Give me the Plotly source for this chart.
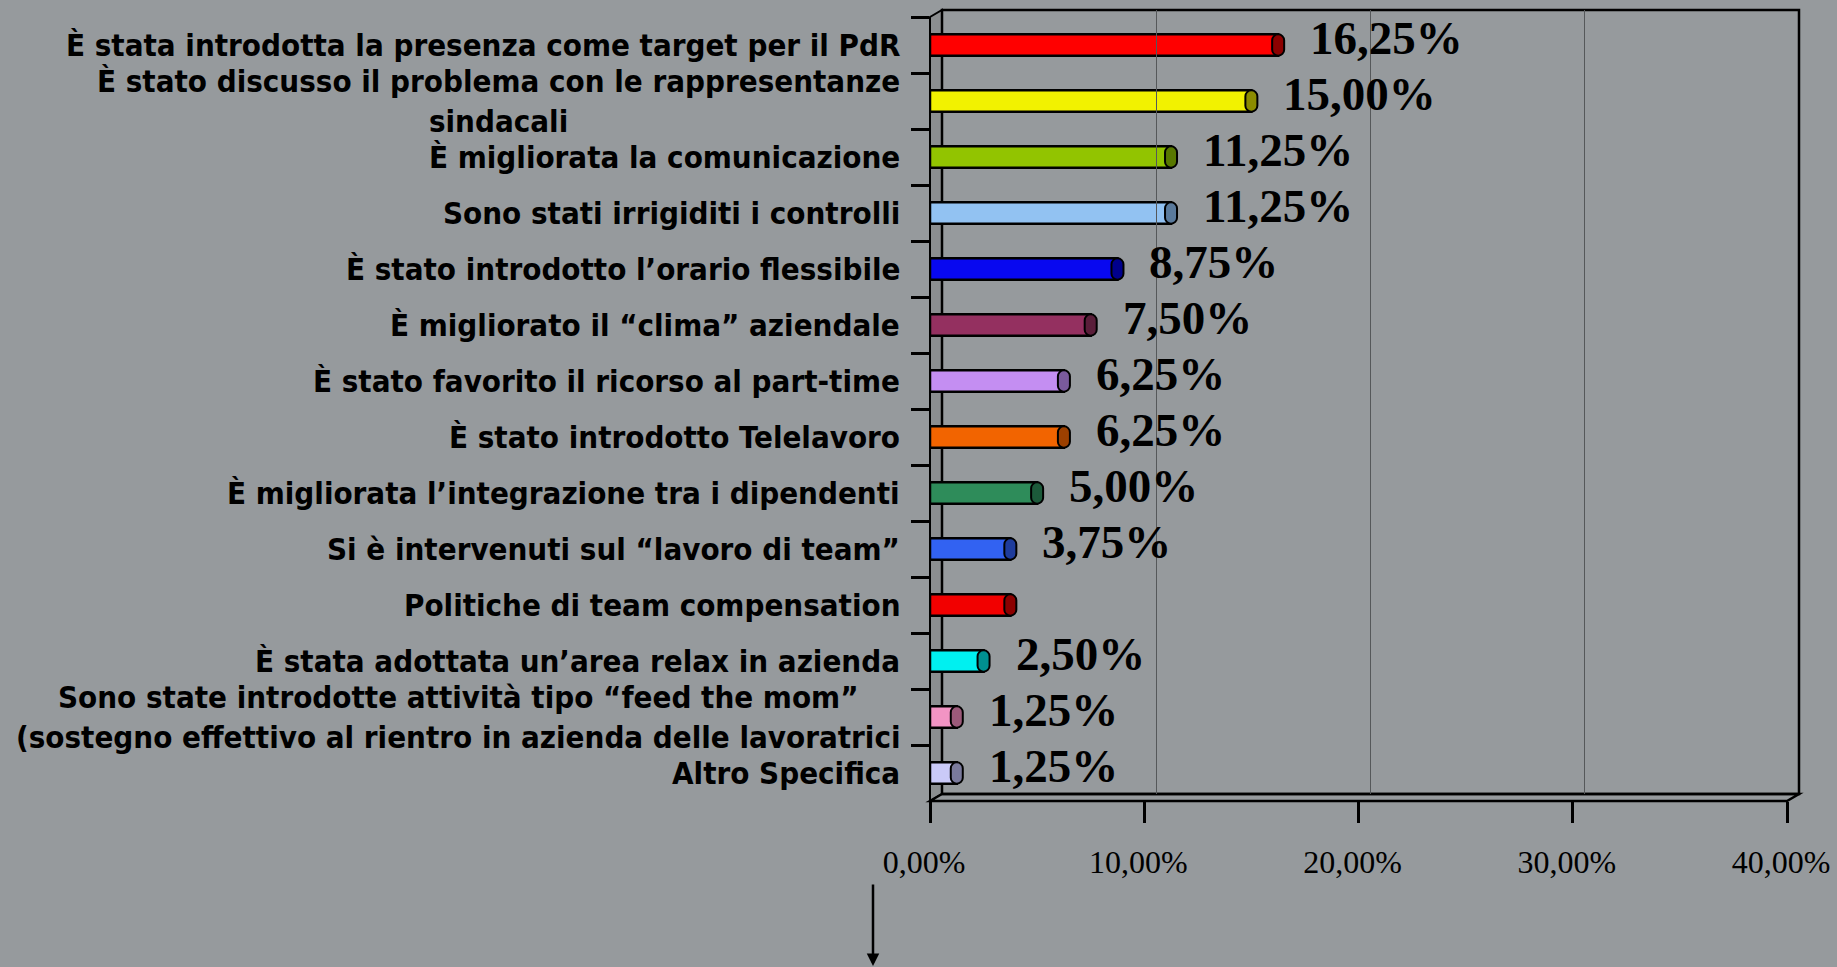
import plotly.graph_objects as go

# ---------------- data ----------------
categories = [
    "È stata introdotta la presenza come target per il PdR",
    "È stato discusso il problema con le rappresentanze<br>sindacali",
    "È migliorata la comunicazione",
    "Sono stati irrigiditi i controlli",
    "È stato introdotto l’orario flessibile",
    "È migliorato il “clima” aziendale",
    "È stato favorito il ricorso al part-time",
    "È stato introdotto Telelavoro",
    "È migliorata l’integrazione tra i dipendenti",
    "Si è intervenuti sul “lavoro di team”",
    "Politiche di team compensation",
    "È stata adottata un’area relax in azienda",
    "Sono state introdotte attività tipo “feed the mom”<br>(sostegno effettivo al rientro in azienda delle lavoratrici",
    "Altro Specifica",
]
values = [16.25, 15.00, 11.25, 11.25, 8.75, 7.50, 6.25, 6.25, 5.00, 3.75, 3.75, 2.50, 1.25, 1.25]
value_labels = ["16,25%", "15,00%", "11,25%", "11,25%", "8,75%", "7,50%", "6,25%", "6,25%",
                "5,00%", "3,75%", "", "2,50%", "1,25%", "1,25%"]
tick_values = [0, 10, 20, 30, 40]
tick_labels = ["0,00%", "10,00%", "20,00%", "30,00%", "40,00%"]

# ---------------- styles ----------------
bar_colors = ["#FF0000", "#F2F200", "#92C400", "#92C2F2", "#0808F0", "#943060", "#C48EF2",
              "#F26400", "#2E8C5A", "#3262F2", "#F20000", "#00F0F0", "#F294C4", "#CACAF8"]
cap_colors = ["#8C0000", "#8C8C00", "#587800", "#5A7A9C", "#00008C", "#5A1E3A", "#7A5A9C",
              "#9C4000", "#1C5A3A", "#1E3C9C", "#8C0000", "#009090", "#9C5A7A", "#7A7A9C"]
BG = "#969A9D"
W, H = 1837, 967
X0, X1 = 930, 1787      # front plane: x of 0% and 40%
YT, YB = 17, 801        # front plane: top and bottom
DX, DY = 12, 7          # depth offset of the back wall


def px(x):
    return x / W


def py(y):
    return (H - y) / H


fig = go.Figure()

# bar bodies
fig.add_trace(go.Bar(
    x=values, y=categories, orientation="h",
    marker=dict(color=bar_colors, line=dict(color="black", width=2.5)),
    width=0.38, hoverinfo="x+y",
))
# cylinder end caps
cap_len = 0.56
fig.add_trace(go.Bar(
    x=[cap_len] * len(values), base=[v - cap_len / 2 for v in values], y=categories,
    orientation="h",
    marker=dict(color=cap_colors, line=dict(color="black", width=2), cornerradius=6),
    width=0.38, hoverinfo="skip",
))
# helper trace for the back-wall axis
fig.add_trace(go.Scatter(
    x=values, y=[0.5] * len(values), xaxis="x2", yaxis="y2", mode="markers",
    marker=dict(opacity=0), hoverinfo="skip", showlegend=False,
))

annotations = []
for cat in categories:
    annotations.append(dict(
        x=0, y=cat, xref="x", yref="y", xanchor="right", yanchor="middle",
        xshift=-28, text=cat, showarrow=False, align="center",
        font=dict(family="DejaVu Sans Condensed, DejaVu Sans", size=31, color="black", weight="bold"),
    ))
for cat, v, lab in zip(categories, values, value_labels):
    if lab:
        annotations.append(dict(
            x=v, y=cat, xref="x", yref="y", xanchor="left", yanchor="middle",
            xshift=30, yshift=7, text=lab, showarrow=False,
            font=dict(family="Liberation Serif, Times New Roman", size=47, color="black", weight="bold"),
        ))
# arrow at bottom
annotations.append(dict(
    x=px(873), y=py(975), xref="paper", yref="paper", text="", showarrow=True,
    arrowhead=2, arrowsize=1, arrowwidth=2.5, arrowcolor="black", ax=0, ay=-92,
))

shapes = [
    # left wall
    dict(type="path", xref="paper", yref="paper", layer="below",
         path=f"M {px(X0)},{py(YB)} L {px(X0)},{py(YT)} L {px(X0+DX)},{py(YT-DY)} L {px(X0+DX)},{py(YB-DY)} Z",
         fillcolor="#8B8E90", line=dict(color="black", width=2)),
    # floor
    dict(type="path", xref="paper", yref="paper", layer="below",
         path=f"M {px(X0)},{py(YB)} L {px(X0+DX)},{py(YB-DY)} L {px(X1+DX)},{py(YB-DY)} L {px(X1)},{py(YB)} Z",
         fillcolor=BG, line=dict(color="black", width=2.5)),
    # back wall border
    dict(type="rect", xref="x2 domain", yref="y2 domain", x0=0, x1=1, y0=0, y1=1,
         layer="below", line=dict(color="black", width=2.5)),
]

fig.update_layout(
    width=W, height=H, margin=dict(l=0, r=0, t=0, b=0, autoexpand=False),
    paper_bgcolor=BG, plot_bgcolor="rgba(0,0,0,0)",
    barmode="overlay", showlegend=False,
    xaxis=dict(domain=[px(X0), px(X1)], range=[0, 40], tickvals=tick_values, ticktext=tick_labels,
               ticks="outside", ticklen=21, tickwidth=2.5, tickcolor="black",
               showgrid=False, zeroline=False, showline=False, automargin=False,
               ticklabeloverflow="allow", ticklabelshift=-6, ticklabelstandoff=12,
               tickfont=dict(family="Liberation Serif, Times New Roman", size=32, color="black")),
    yaxis=dict(domain=[py(YB), py(YT)], type="category", range=[len(categories) - 0.5, -0.5],
               ticks="outside", tickson="boundaries", ticklen=18, tickwidth=2.5, tickcolor="black",
               showticklabels=False, showgrid=False, zeroline=False, showline=False, automargin=False),
    xaxis2=dict(domain=[px(X0 + DX), px(X1 + DX)], range=[0, 40], anchor="y2",
                tickvals=tick_values, showticklabels=False, ticks="", showgrid=True,
                gridcolor="#55585A", gridwidth=1, zeroline=False, showline=False, automargin=False),
    yaxis2=dict(domain=[py(YB - DY), py(YT - DY)], range=[0, 1], anchor="x2", automargin=False,
                showticklabels=False, showgrid=False, zeroline=False, ticks="", showline=False),
    annotations=annotations, shapes=shapes,
)

fig.write_html(
    "out.html",
    config={"displayModeBar": False},
    post_script="document.body.style.margin='0';document.body.style.overflow='hidden';"
                "document.body.style.background='" + BG + "';",
)
